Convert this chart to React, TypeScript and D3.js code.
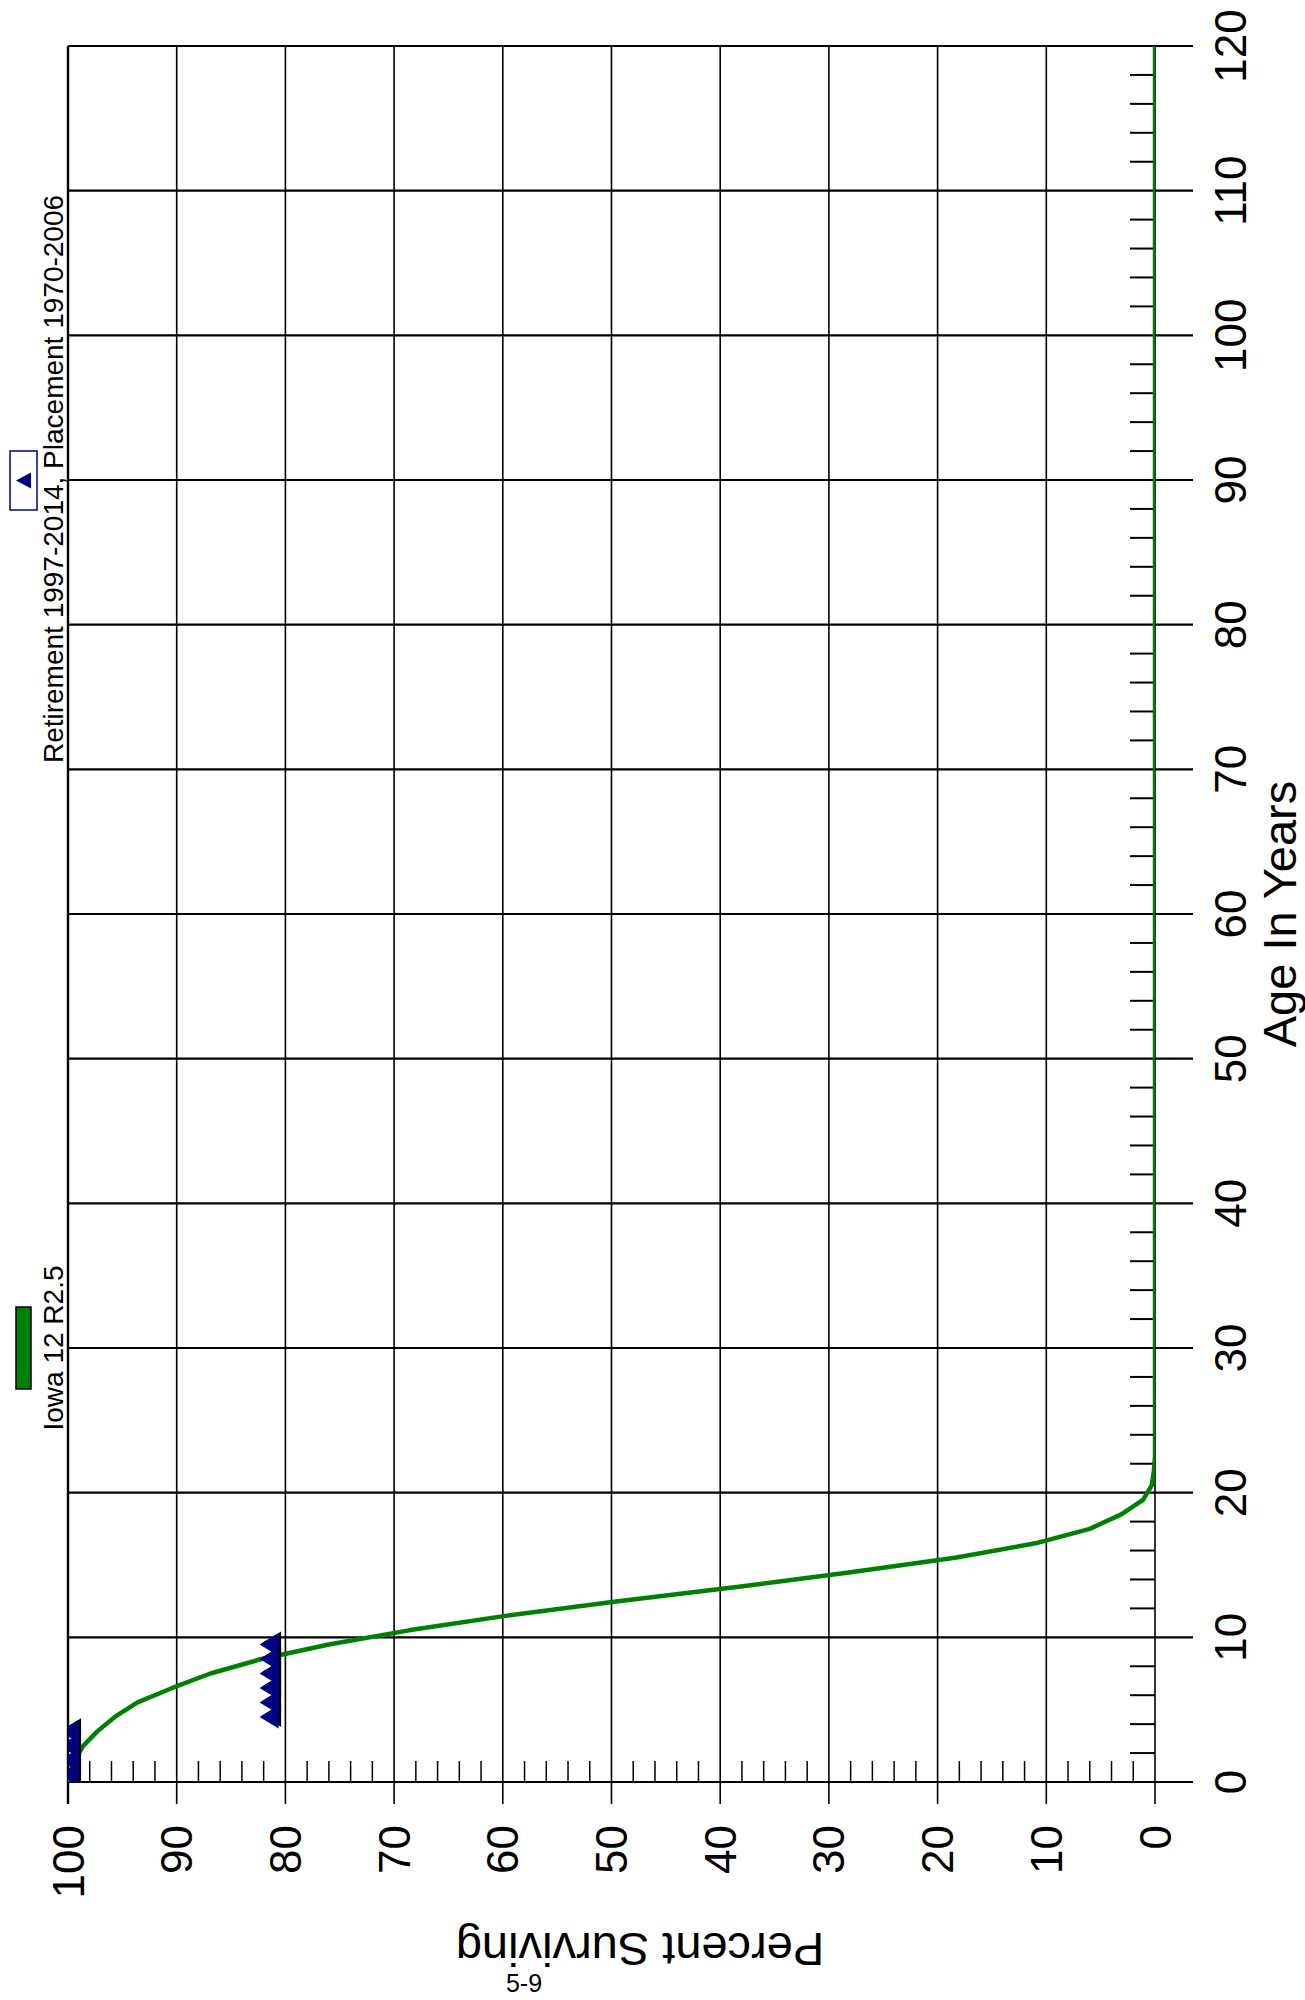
import React from 'react';
import * as d3 from 'd3';

// ---- Data ----
const curveAges = [0, 0.5, 1.5, 2.5, 3.5, 4.5, 5.5, 6.5, 7.5, 8.5, 9.5, 10.5, 11.5, 12.5, 13.5, 14.5, 15.5, 16.5, 17.5, 18.5, 19.5, 20.5, 21.5, 22.5, 120];
const curvePct = [100, 99.9, 99.4, 98.6, 97.3, 95.7, 93.6, 90.4, 86.9, 82.2, 76.0, 68.5, 59.6, 49.4, 38.3, 28.0, 18.4, 11.0, 6.0, 3.1, 1.1, 0.3, 0.1, 0.0, 0.0];

const obsAges = [0.5, 1.5, 2.5, 3.5, 4.5, 5.5, 6.5, 7.5, 8.5, 9.5];
const obsPct = [99.9, 99.9, 99.9, 99.9, 81.5, 81.5, 81.5, 81.5, 81.5, 81.5];

const ageTickValues = [0, 10, 20, 30, 40, 50, 60, 70, 80, 90, 100, 110, 120];
const ageTickLabels = ['0', '10', '20', '30', '40', '50', '60', '70', '80', '90', '100', '110', '120'];
const pctTickValues = [0, 10, 20, 30, 40, 50, 60, 70, 80, 90, 100];
const pctTickLabels = ['0', '10', '20', '30', '40', '50', '60', '70', '80', '90', '100'];

const curveName = 'Iowa 12 R2.5';
const obsName = 'Retirement 1997-2014, Placement 1970-2006';
const xTitle = 'Age In Years';
const yTitle = 'Percent Surviving';
const pageNo = '5-9';

const FONT = '"Liberation Sans", Arial, Helvetica, sans-serif';
const GREEN = '#008000';
const NAVY = '#000080';

export default function App() {
  const left = 68, right = 1155, top = 46, bottom = 1782;
  const ys = d3.scaleLinear().domain([0, 120]).range([bottom, top]);
  const xs = d3.scaleLinear().domain([0, 100]).range([right, left]);

  const minorAges = d3.range(0, 121, 2).filter((a) => a % 10 !== 0);
  const minorPct = d3.range(0, 101, 2).filter((p) => p % 10 !== 0);

  const pts: [number, number][] = curveAges.map((a, i) => [xs(curvePct[i]), ys(a)]);
  const line = d3.line<[number, number]>().x((d) => d[0]).y((d) => d[1]);
  const curvePath = line(pts) || '';

  const tw = 19, th = 11.5;
  const tri = (cx: number, cy: number, w: number, h: number) =>
    `M${cx - w / 2},${cy} L${cx + w / 2},${cy - h} L${cx + w / 2},${cy + h} Z`;

  const obs = obsAges.map((a, i) => ({ x: xs(obsPct[i]), y: ys(a) }));

  return (
    <svg width={1305} height={2000} style={{ position: 'absolute', left: 0, top: 0, background: '#fff' }}>
      <defs>
        <clipPath id="plotClip">
          <rect x={left} y={top} width={right - left} height={bottom - top} />
        </clipPath>
      </defs>
      <rect x={0} y={0} width={1305} height={2000} fill="#fff" />

      {/* percent grid lines (vertical) */}
      {pctTickValues.map((p) => (
        <line key={'pg' + p} x1={xs(p)} x2={xs(p)} y1={top} y2={1804} stroke="#000" strokeWidth={p === 100 ? 2.4 : 1.6} />
      ))}
      {/* age grid lines (horizontal) */}
      {ageTickValues.map((a) => (
        <line key={'ag' + a} x1={left} x2={1193} y1={ys(a)} y2={ys(a)} stroke="#000" strokeWidth={2.2} />
      ))}
      {/* minor percent ticks */}
      {minorPct.map((p) => (
        <line key={'mp' + p} x1={xs(p)} x2={xs(p)} y1={1761} y2={bottom} stroke="#000" strokeWidth={1.5} />
      ))}
      {/* minor age ticks */}
      {minorAges.map((a) => (
        <line key={'ma' + a} x1={1130} x2={right} y1={ys(a)} y2={ys(a)} stroke="#000" strokeWidth={2} />
      ))}

      {/* curve */}
      <g clipPath="url(#plotClip)">
        <path d={curvePath} fill="none" stroke={GREEN} strokeWidth={4.5} strokeLinejoin="round" />
      </g>

      {/* observed markers */}
      <g clipPath="url(#plotClip)">
        {obs.map((o, i) => (
          <path key={'s' + i} d={tri(o.x + 2.5, o.y - 1.5, tw, th)} fill="#000" />
        ))}
        {obs.map((o, i) => (
          <path key={'t' + i} d={tri(o.x, o.y, tw, th)} fill={NAVY} />
        ))}
      </g>

      {/* age tick labels */}
      {ageTickValues.map((a, i) => (
        <text key={'al' + a} x={1246} y={ys(a)} transform={`rotate(-90, 1246, ${ys(a)})`} textAnchor="middle"
          fontFamily={FONT} fontSize={44} fill="#000">{ageTickLabels[i]}</text>
      ))}
      {/* percent tick labels */}
      {pctTickValues.map((p, i) => (
        <text key={'pl' + p} x={xs(p) + 15.5} y={1825} transform={`rotate(-90, ${xs(p) + 15.5}, 1825)`} textAnchor="end"
          fontFamily={FONT} fontSize={44} fill="#000">{pctTickLabels[i]}</text>
      ))}

      {/* axis titles */}
      <text x={1296} y={914} transform="rotate(-90, 1296, 914)" textAnchor="middle" fontFamily={FONT} fontSize={47} fill="#000">{xTitle}</text>
      <text x={640} y={1933} transform="rotate(180, 640, 1933)" textAnchor="middle" fontFamily={FONT} fontSize={47} fill="#000">{yTitle}</text>
      <text x={524} y={1992} textAnchor="middle" fontFamily={FONT} fontSize={25} fill="#000">{pageNo}</text>

      {/* legend: curve */}
      <rect x={16} y={1307} width={15} height={82} fill={GREEN} stroke="#000" strokeWidth={1.5} />
      <text x={63} y={1348} transform="rotate(-90, 63, 1348)" textAnchor="middle" fontFamily={FONT} fontSize={28} fill="#000">{curveName}</text>

      {/* legend: observed */}
      <rect x={10} y={451} width={27} height={59} fill="#fff" stroke={NAVY} strokeWidth={1.5} />
      <path d={tri(23.5, 480.5, 15, 8)} fill={NAVY} />
      <text x={63} y={479} transform="rotate(-90, 63, 479)" textAnchor="middle" fontFamily={FONT} fontSize={28} fill="#000">{obsName}</text>
    </svg>
  );
}
